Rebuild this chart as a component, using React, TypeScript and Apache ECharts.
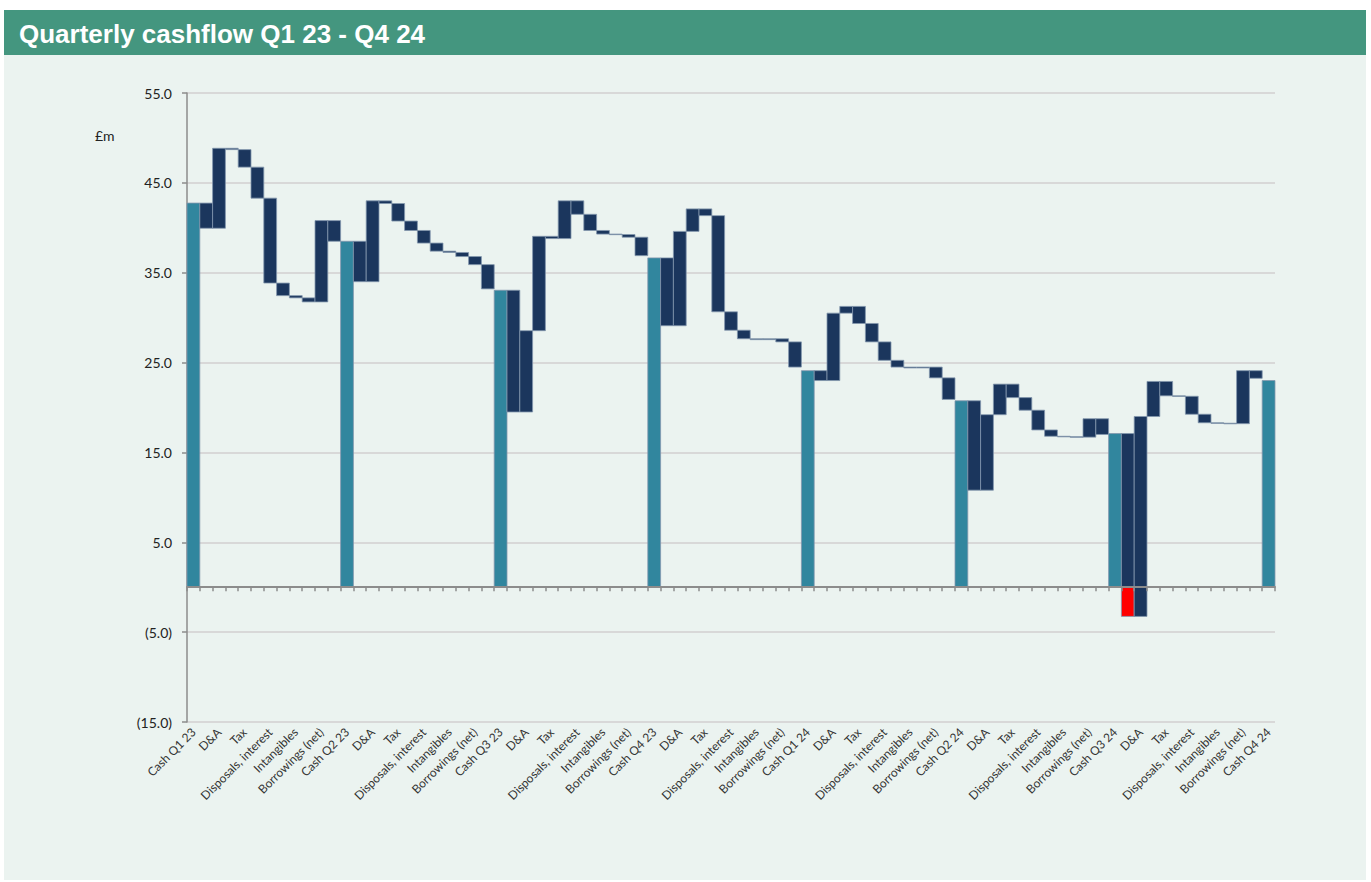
import React, { useEffect, useRef } from "react";
import * as echarts from "echarts";

// ---- data ----
const cashLabels = [
  "Cash Q1 23", "Cash Q2 23", "Cash Q3 23", "Cash Q4 23",
  "Cash Q1 24", "Cash Q2 24", "Cash Q3 24", "Cash Q4 24",
];
// 11 movement steps between two cash balances (every other one is unlabelled)
const stepLabels = ["", "D&A", "", "Tax", "", "Disposals, interest", "", "Intangibles", "", "Borrowings (net)", ""];
const cashBalances = [42.75, 38.5, 33.05, 36.65, 24.1, 20.75, 17.1, 23.0];
const q1Changes = [-2.8, 8.9, -0.15, -1.95, -3.45, -9.45, -1.4, -0.25, -0.45, 9.05, -2.3];
const q2Changes = [-4.5, 9.0, -0.3, -1.95, -1.05, -1.4, -0.9, -0.15, -0.45, -0.9, -2.7];
const q3Changes = [-13.55, 9.05, 10.5, -0.25, 4.2, -1.5, -1.8, -0.4, -0.05, -0.3, -2.05];
const q4Changes = [-7.55, 10.5, 2.5, -0.75, -10.7, -2.05, -0.95, -0.1, 0.1, -0.35, -2.8];
const q5Changes = [-1.1, 7.5, 0.75, -1.9, -2.05, -2.05, -0.75, -0.1, 0.1, -1.2, -2.4];
const q6Changes = [-9.95, 8.4, 3.4, -1.5, -1.4, -2.2, -0.7, -0.05, -0.05, 2.05, -1.75];
const q7Changes = [-20.35, 22.25, 3.9, -1.6, -0.05, -2.0, -0.95, -0.05, -0.05, 5.9, -0.85];
const quarterChanges = [q1Changes, q2Changes, q3Changes, q4Changes, q5Changes, q6Changes, q7Changes];
const yTickValues = [-15, -5, 5, 15, 25, 35, 45, 55];

const TITLE = "Quarterly cashflow Q1 23 - Q4 24";
const UNIT = "£m";

const COLORS = ["#31869e", "#1b365d", "#ff0000"]; // cash, movement, negative crossing

function buildCategories(): string[] {
  const cats: string[] = [];
  cashLabels.forEach((c, q) => {
    cats.push(c);
    if (q < quarterChanges.length) stepLabels.forEach((s) => cats.push(s));
  });
  return cats;
}

function buildBars(): number[][] {
  const bars: number[][] = [];
  let idx = 0;
  cashLabels.forEach((_, q) => {
    const cash = cashBalances[q];
    bars.push([idx, 0, cash, 0]);
    idx++;
    if (q < quarterChanges.length) {
      let level = cash;
      quarterChanges[q].forEach((d) => {
        const next = level + d;
        if (d < 0 && level > 0 && next < 0) {
          bars.push([idx, 0, level, 1]);
          bars.push([idx, next, 0, 2]);
        } else {
          bars.push([idx, Math.min(level, next), Math.max(level, next), 1]);
        }
        level = next;
        idx++;
      });
    }
  });
  return bars;
}

function fmt(v: number): string {
  return v < 0 ? `(${Math.abs(v).toFixed(1)})` : v.toFixed(1);
}

export default function App() {
  const ref = useRef<HTMLDivElement>(null);
  useEffect(() => {
    if (!ref.current) return;
    const chart = echarts.init(ref.current, undefined, { renderer: "svg" });
    const categories = buildCategories();
    const bars = buildBars();
    const yMin = yTickValues[0];
    const yMax = yTickValues[yTickValues.length - 1];
    const step = yTickValues[1] - yTickValues[0];
    const axisGrey = "#8c8c8c";
    const option: any = {
      animation: false,
      backgroundColor: "#ffffff",
      textStyle: { fontFamily: "Lato, sans-serif" },
      grid: { left: 187, right: 96, top: 93, bottom: 160, containLabel: false },
      graphic: [
        { type: "rect", z: -10, shape: { x: 4, y: 10, width: 1362, height: 870 }, style: { fill: "#ebf3f0" } },
        { type: "rect", z: -9, shape: { x: 4, y: 10, width: 1362, height: 45 }, style: { fill: "#44967f" } },
        {
          type: "text", x: 19, y: 34,
          style: { text: TITLE, fill: "#ffffff", font: "bold 26px 'Liberation Sans', Arial, sans-serif", verticalAlign: "middle" },
        },
        {
          type: "text", x: 95, y: 135,
          style: { text: UNIT, fill: "#222222", font: "14px Lato, sans-serif", verticalAlign: "middle" },
        },
      ],
      xAxis: [
        {
          type: "category",
          data: categories,
          boundaryGap: true,
          z: 10,
          axisLine: { show: true, onZero: true, onZeroAxisIndex: 0, lineStyle: { color: axisGrey, width: 2 } },
          axisTick: { show: true, interval: 0, length: 4, lineStyle: { color: axisGrey, width: 1.5 } },
          axisLabel: { show: false },
          splitLine: { show: false },
        },
        {
          type: "category",
          data: categories,
          position: "bottom",
          boundaryGap: true,
          axisLine: { show: false, onZero: false },
          axisTick: { show: false },
          splitLine: { show: false },
          axisLabel: {
            show: true, interval: 0, rotate: 45, margin: 8,
            fontSize: 12, color: "#333333", fontFamily: "Lato, sans-serif",
          },
        },
      ],
      yAxis: [
        {
          type: "value",
          min: yMin,
          max: yMax,
          axisLine: { show: true, lineStyle: { color: axisGrey, width: 1.5 } },
          axisTick: { show: false },
          axisLabel: { show: false },
          splitLine: { show: false },
        },
        {
          type: "value",
          position: "left",
          min: 0,
          max: yMax - yMin,
          interval: step,
          axisLine: { show: false },
          axisTick: { show: true, length: 5, lineStyle: { color: axisGrey, width: 1.5 } },
          axisLabel: {
            show: true, margin: 15, fontSize: 14, color: "#222222", fontFamily: "Lato, sans-serif",
            formatter: (v: number) => fmt(v + yMin),
          },
          splitLine: { show: true, lineStyle: { color: "#d8d8d8", width: 2 } },
        },
      ],
      series: [
        {
          type: "custom",
          xAxisIndex: 0,
          yAxisIndex: 0,
          encode: { x: 0, y: [1, 2] },
          data: bars,
          renderItem: (params: any, api: any) => {
            const x = api.value(0);
            const lo = api.value(1);
            const hi = api.value(2);
            const kind = api.value(3);
            const p0 = api.coord([x, lo]);
            const p1 = api.coord([x, hi]);
            const w = api.size([1, 0])[0];
            return {
              type: "rect",
              shape: { x: p0[0] - w / 2, y: p1[1], width: w, height: Math.max(p0[1] - p1[1], 0.6) },
              style: { fill: COLORS[kind], stroke: "#8397ad", lineWidth: 0.8 },
            };
          },
        },
      ],
    };
    chart.setOption(option);
    return () => chart.dispose();
  }, []);
  return (
    <div
      ref={ref}
      style={{ position: "fixed", left: 0, top: 0, width: 1371, height: 882 }}
    />
  );
}
